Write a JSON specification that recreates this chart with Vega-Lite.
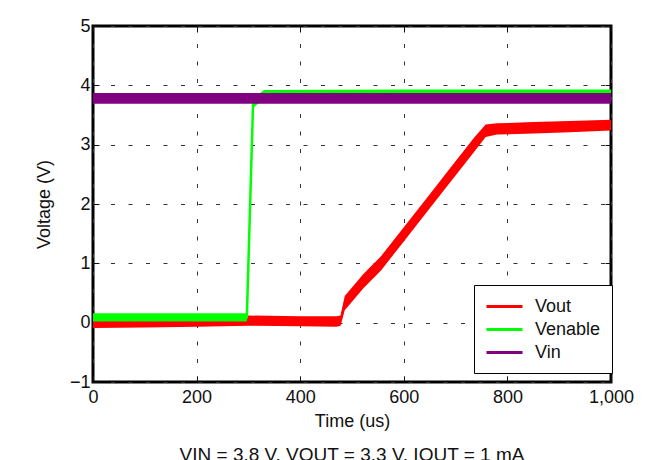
{
  "$schema": "https://vega.github.io/schema/vega-lite/v6.json",
  "width": 518,
  "height": 356,
  "autosize": "none",
  "padding": {"left": 93, "top": 26, "right": 52, "bottom": 78},
  "background": "white",
  "title": {
    "text": "VIN = 3.8 V, VOUT = 3.3 V, IOUT = 1 mA",
    "orient": "bottom",
    "anchor": "middle",
    "fontSize": 19,
    "fontWeight": "normal",
    "color": "#111",
    "offset": 16
  },
  "config": {
    "font": "Liberation Sans",
    "view": {"stroke": "black", "strokeWidth": 3},
    "axis": {
      "labelFontSize": 18,
      "titleFontSize": 18,
      "titleFontWeight": "normal",
      "labelColor": "#111",
      "titleColor": "#111",
      "labelFlush": false,
      "domain": false,
      "tickColor": "#111",
      "tickWidth": 1,
      "gridColor": "#333",
      "gridDash": [4, 13.5],
      "gridWidth": 1,
      "gridOpacity": 1
    },
    "legend": {
      "orient": "none",
      "legendX": 381,
      "legendY": 259,
      "title": null,
      "symbolType": "M-1,0H3",
      "symbolSize": 324,
      "symbolStrokeWidth": 3,
      "labelFontSize": 18,
      "labelColor": "#111",
      "labelOffset": 29,
      "strokeColor": "black",
      "fillColor": "white",
      "padding": 11,
      "rowPadding": 3
    }
  },
  "datasets": {
    "traces": [
      {"series": "Vout", "t": 0, "lo": -0.09, "hi": 0.06, "v": -0.01},
      {"series": "Vout", "t": 100, "lo": -0.08, "hi": 0.08, "v": 0.0},
      {"series": "Vout", "t": 200, "lo": -0.07, "hi": 0.1, "v": 0.01},
      {"series": "Vout", "t": 300, "lo": -0.05, "hi": 0.12, "v": 0.03},
      {"series": "Vout", "t": 400, "lo": -0.06, "hi": 0.11, "v": 0.03},
      {"series": "Vout", "t": 470, "lo": -0.07, "hi": 0.11, "v": 0.02},
      {"series": "Vout", "t": 478, "lo": -0.05, "hi": 0.12, "v": 0.04},
      {"series": "Vout", "t": 486, "lo": 0.21, "hi": 0.45, "v": 0.33},
      {"series": "Vout", "t": 522, "lo": 0.58, "hi": 0.82, "v": 0.7},
      {"series": "Vout", "t": 556, "lo": 0.88, "hi": 1.12, "v": 1.0},
      {"series": "Vout", "t": 600, "lo": 1.37, "hi": 1.61, "v": 1.49},
      {"series": "Vout", "t": 646, "lo": 1.88, "hi": 2.12, "v": 2.0},
      {"series": "Vout", "t": 690, "lo": 2.37, "hi": 2.61, "v": 2.49},
      {"series": "Vout", "t": 736, "lo": 2.88, "hi": 3.12, "v": 3.0},
      {"series": "Vout", "t": 758, "lo": 3.13, "hi": 3.34, "v": 3.23},
      {"series": "Vout", "t": 780, "lo": 3.17, "hi": 3.36, "v": 3.26},
      {"series": "Vout", "t": 850, "lo": 3.19, "hi": 3.38, "v": 3.29},
      {"series": "Vout", "t": 920, "lo": 3.21, "hi": 3.4, "v": 3.31},
      {"series": "Vout", "t": 1000, "lo": 3.24, "hi": 3.42, "v": 3.33},
      {"series": "Venable", "t": 0, "lo": 0.02, "hi": 0.16, "v": 0.09},
      {"series": "Venable", "t": 150, "lo": 0.02, "hi": 0.16, "v": 0.09},
      {"series": "Venable", "t": 297, "lo": 0.02, "hi": 0.16, "v": 0.09},
      {"series": "Venable", "t": 309, "lo": 3.62, "hi": 3.78, "v": 3.7},
      {"series": "Venable", "t": 330, "lo": 3.77, "hi": 3.92, "v": 3.85},
      {"series": "Venable", "t": 600, "lo": 3.78, "hi": 3.93, "v": 3.855},
      {"series": "Venable", "t": 1000, "lo": 3.78, "hi": 3.93, "v": 3.855},
      {"series": "Vin", "t": 0, "lo": 3.69, "hi": 3.87, "v": 3.79},
      {"series": "Vin", "t": 500, "lo": 3.69, "hi": 3.87, "v": 3.79},
      {"series": "Vin", "t": 1000, "lo": 3.69, "hi": 3.87, "v": 3.79}
    ]
  },
  "data": {"name": "traces"},
  "encoding": {
    "color": {
      "field": "series",
      "type": "nominal",
      "scale": {"domain": ["Vout", "Venable", "Vin"], "range": ["#ff0000", "#00ff00", "#800080"]}
    }
  },
  "layer": [
    {
      "transform": [{"filter": "datum.series === 'Vout'"}],
      "mark": {"type": "area", "opacity": 1},
      "encoding": {
        "x": {
          "field": "t", "type": "quantitative",
          "scale": {"domain": [0, 1000], "nice": false},
          "axis": {
            "orient": "bottom", "values": [0, 200, 400, 600, 800, 1000], "format": ",.0f",
            "title": "Time (us)", "tickSize": -6, "labelPadding": 12, "titlePadding": 6, "grid": true
          }
        },
        "y": {
          "field": "lo", "type": "quantitative",
          "scale": {"domain": [-1, 5], "nice": false},
          "axis": {
            "orient": "left", "values": [-1, 0, 1, 2, 3, 4, 5], "format": "d",
            "title": "Voltage (V)", "tickSize": -6, "labelPadding": 9, "titlePadding": 16, "grid": true
          }
        },
        "y2": {"field": "hi"}
      }
    },
    {
      "transform": [{"filter": "datum.series === 'Vout'"}],
      "mark": {"type": "line", "strokeWidth": 2},
      "encoding": {
        "x": {
          "field": "t", "type": "quantitative",
          "axis": {"orient": "top", "values": [0, 200, 400, 600, 800, 1000], "labels": false, "title": null, "tickSize": -6, "grid": false}
        },
        "y": {
          "field": "v", "type": "quantitative",
          "axis": {"orient": "right", "values": [-1, 0, 1, 2, 3, 4, 5], "labels": false, "title": null, "tickSize": -6, "grid": false}
        }
      }
    },
    {
      "transform": [{"filter": "datum.series === 'Venable'"}],
      "mark": {"type": "area", "opacity": 1},
      "encoding": {
        "x": {"field": "t", "type": "quantitative", "axis": null},
        "y": {"field": "lo", "type": "quantitative", "axis": null},
        "y2": {"field": "hi"}
      }
    },
    {
      "transform": [{"filter": "datum.series === 'Venable'"}],
      "mark": {"type": "line", "strokeWidth": 2.5},
      "encoding": {
        "x": {"field": "t", "type": "quantitative", "axis": null},
        "y": {"field": "v", "type": "quantitative", "axis": null}
      }
    },
    {
      "transform": [{"filter": "datum.series === 'Vin'"}],
      "mark": {"type": "area", "opacity": 1},
      "encoding": {
        "x": {"field": "t", "type": "quantitative", "axis": null},
        "y": {"field": "lo", "type": "quantitative", "axis": null},
        "y2": {"field": "hi"}
      }
    }
  ],
  "resolve": {"axis": {"x": "independent", "y": "independent"}}
}
